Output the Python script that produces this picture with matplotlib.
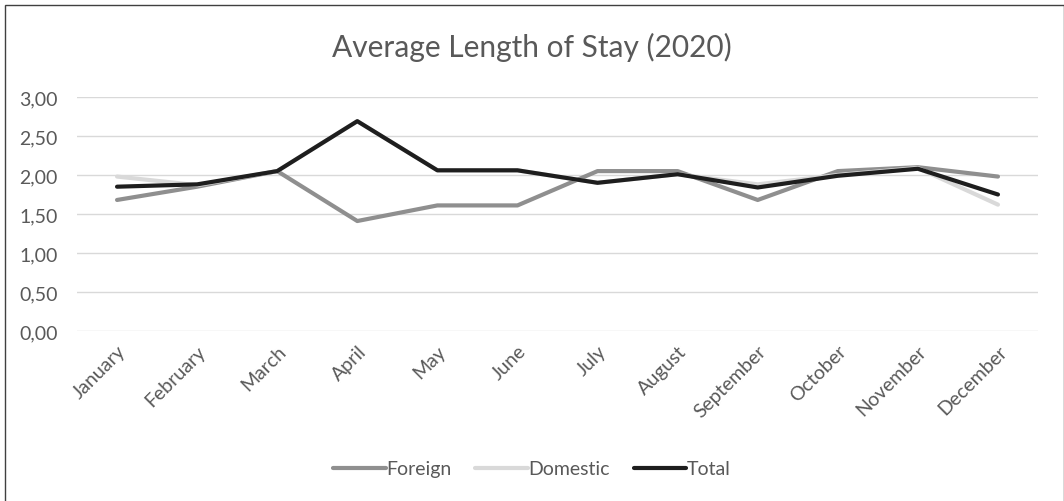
import numpy as np
import matplotlib.pyplot as plt
from matplotlib.patches import Rectangle
from matplotlib.ticker import FuncFormatter

plt.rcParams['font.family'] = ['Lato', 'DejaVu Sans']

# Data
months = ['January', 'February', 'March', 'April', 'May', 'June',
          'July', 'August', 'September', 'October', 'November', 'December']
foreign = [1.68, 1.85, 2.05, 1.41, 1.61, 1.61, 2.05, 2.05, 1.68, 2.05, 2.10, 1.98]
domestic = [1.98, 1.87, 2.05, 2.69, 2.06, 2.06, 1.90, 2.01, 1.88, 2.00, 2.09, 1.62]
total = [1.85, 1.88, 2.05, 2.69, 2.06, 2.06, 1.90, 2.01, 1.84, 1.99, 2.08, 1.75]

W, H = 1064, 502
fig = plt.figure(figsize=(W / 100, H / 100), dpi=100)
ax = fig.add_axes([77 / W, 1 - 332 / H, (1038 - 77) / W, (332 - 98) / H])

x = np.arange(len(months))
ax.plot(x, foreign, color='#8f8f8f', lw=3.0, label='Foreign', solid_capstyle='round')
ax.plot(x, domestic, color='#d9d9d9', lw=3.0, label='Domestic', solid_capstyle='round')
ax.plot(x, total, color='#1e1e1e', lw=3.0, label='Total', solid_capstyle='round')

ax.set_xlim(-0.5, len(months) - 0.5)
ax.set_ylim(0, 3)
ax.set_yticks(np.arange(0, 3.01, 0.5))
ax.yaxis.set_major_formatter(FuncFormatter(lambda v, p: f'{v:.2f}'.replace('.', ',')))
ax.set_xticks(x)
ax.set_xticklabels(months, rotation=45, ha='right', rotation_mode='anchor')
ax.grid(axis='y', color='#d9d9d9', lw=1.0)
ax.set_axisbelow(True)
for s in ax.spines.values():
    s.set_visible(False)
ax.tick_params(length=0, colors='#595959', labelsize=14)
ax.tick_params(axis='y', pad=14)
ax.tick_params(axis='x', pad=8)

fig.text(0.5, 1 - 47 / H, 'Average Length of Stay (2020)', ha='center', va='center',
         fontsize=21.5, color='#595959')

leg = fig.legend(loc='center', bbox_to_anchor=(0.5, 1 - 470 / H), ncol=3, frameon=False,
                 fontsize=14, handlelength=2.7, handletextpad=0.05, columnspacing=1.2)
for t in leg.get_texts():
    t.set_color('#595959')

fig.patches.append(Rectangle((5 / W, -0.01), (W - 5.5) / W, 1 - 6 / H + 0.01,
                             transform=fig.transFigure, fill=False,
                             edgecolor='#404040', lw=1.0))

fig.savefig('out.png', dpi=100)
